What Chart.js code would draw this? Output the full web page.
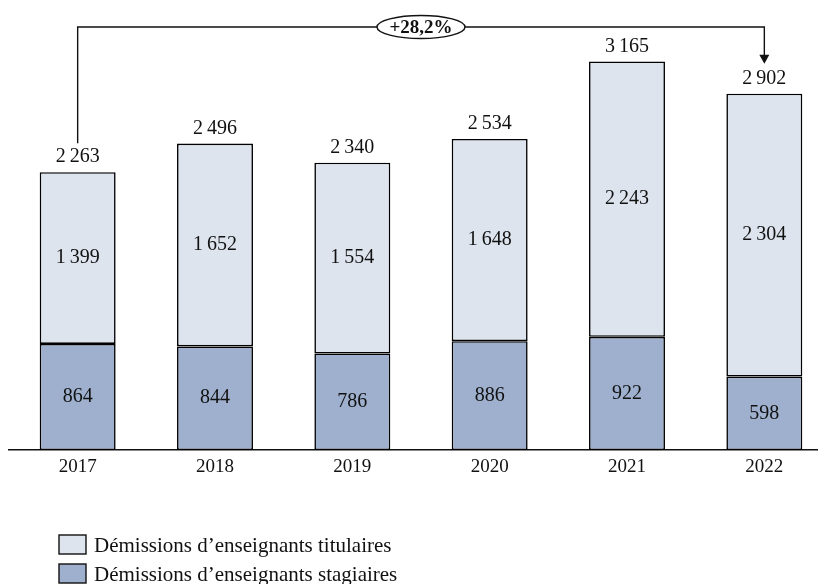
<!DOCTYPE html>
<html>
<head>
<meta charset="utf-8">
<script src="https://cdn.jsdelivr.net/npm/chart.js@4"></script>
<style>
  html, body { margin: 0; padding: 0; background: #fff; overflow: hidden; }
  #wrap { width: 840px; height: 584px; }
</style>
</head>
<body>
<div id="wrap"><canvas id="graf" width="840" height="584"></canvas></div>
<script>
const annees = ['2017', '2018', '2019', '2020', '2021', '2022'];
const stagiaires = [864, 844, 786, 886, 922, 598];
const titulaires = [1399, 1652, 1554, 1648, 2243, 2304];
const totaux = [2263, 2496, 2340, 2534, 3165, 2902];
const evolution = '+28,2%';

const police = '"Liberation Serif", "DejaVu Serif", serif';
const fmt = v => String(v).replace(/\B(?=(\d{3})+(?!\d))/g, '\u202F');

const etiquettes = {
  id: 'etiquettes',
  afterDatasetsDraw(chart) {
    const ctx = chart.ctx;
    ctx.save();
    ctx.fillStyle = '#111';
    ctx.font = '20px ' + police;
    ctx.textAlign = 'center';
    ctx.textBaseline = 'middle';
    chart.data.datasets.forEach((ds, d) => {
      chart.getDatasetMeta(d).data.forEach((bar, i) => {
        const { y, base } = bar.getProps(['y', 'base'], true);
        ctx.fillText(fmt(ds.data[i]), bar.x, (y + base) / 2);
      });
    });
    // totaux au-dessus des barres
    const meta = chart.getDatasetMeta(1);
    meta.data.forEach((bar, i) => {
      ctx.fillText(fmt(totaux[i]), bar.x, bar.y - 15);
    });

    // flèche d'évolution 2017 -> 2022
    const x0 = meta.data[0].x, x1 = meta.data[5].x;
    const yTop = 27;
    const yStart = meta.data[0].y - 29;
    const yEnd = meta.data[5].y - 30;
    ctx.strokeStyle = '#111';
    ctx.lineWidth = 1.4;
    ctx.beginPath();
    ctx.moveTo(x0, yStart);
    ctx.lineTo(x0, yTop);
    ctx.lineTo(x1, yTop);
    ctx.lineTo(x1, yEnd - 8);
    ctx.stroke();
    ctx.beginPath();
    ctx.moveTo(x1 - 5, yEnd - 9);
    ctx.lineTo(x1 + 5, yEnd - 9);
    ctx.lineTo(x1, yEnd);
    ctx.closePath();
    ctx.fillStyle = '#111';
    ctx.fill();

    const cx = (x0 + x1) / 2;
    ctx.beginPath();
    ctx.ellipse(cx, yTop, 44, 11.5, 0, 0, Math.PI * 2);
    ctx.fillStyle = '#fff';
    ctx.fill();
    ctx.stroke();
    ctx.fillStyle = '#111';
    ctx.font = 'bold 19px ' + police;
    ctx.fillText(evolution, cx, yTop + 1);

    // légende
    ctx.font = '21px ' + police;
    ctx.textAlign = 'left';
    [1, 0].forEach((d, k) => {
      const ds = chart.data.datasets[d];
      const y = 535 + k * 29;
      ctx.fillStyle = ds.backgroundColor;
      ctx.fillRect(59, y, 27, 19);
      ctx.lineWidth = 1.4;
      ctx.strokeRect(59, y, 27, 19);
      ctx.fillStyle = '#111';
      ctx.fillText(ds.label, 94, y + 11);
    });
    ctx.restore();
  }
};

new Chart(document.getElementById('graf'), {
  type: 'bar',
  data: {
    labels: annees,
    datasets: [
      { label: 'Démissions d’enseignants stagiaires', data: stagiaires, backgroundColor: '#9eb0cd', borderColor: '#000', borderWidth: 1.6, borderSkipped: false },
      { label: 'Démissions d’enseignants titulaires', data: titulaires, backgroundColor: '#dde4ee', borderColor: '#000', borderWidth: 1.6, borderSkipped: false }
    ]
  },
  options: {
    responsive: false,
    animation: false,
    layout: { padding: { left: 9, right: 7, top: 8, bottom: 0 } },
    plugins: { legend: { display: false }, tooltip: { enabled: false } },
    scales: {
      x: {
        stacked: true,
        grid: { display: false, drawTicks: false },
        border: { display: true, color: '#111', width: 1.6 },
        ticks: { color: '#111', font: { family: police, size: 19 }, padding: 6 },
        afterFit: s => { s.height = 134; }
      },
      y: { stacked: true, display: false, min: 0, max: 3600 }
    },
    datasets: { bar: { categoryPercentage: 1, barPercentage: 0.553 } }
  },
  plugins: [etiquettes]
});
</script>
</body>
</html>
